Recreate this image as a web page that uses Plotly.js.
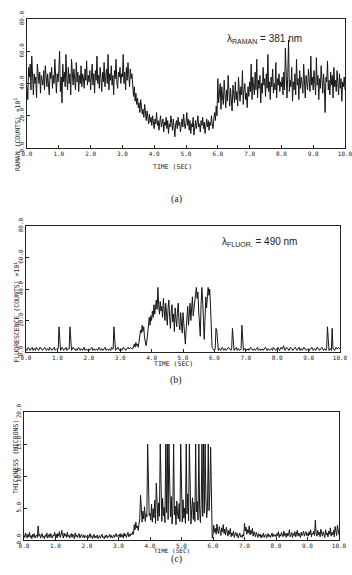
<!DOCTYPE html>
<html><head><meta charset="utf-8">
<script src="https://cdn.plot.ly/plotly-3.0.1.min.js"></script>
<style>html,body{margin:0;padding:0;background:#fff}#chart{width:352px;height:575px}</style>
</head><body><div id="chart"></div>
<script>
// time axis: 0 to 10 s, sample step 0.025 s
const timeStart = 0;
const timeStep = 0.025;
const xTickVals = [0,1,2,3,4,5,6,7,8,9,10];
const xTickText = ["0.0","1.0","2.0","3.0","4.0","5.0","6.0","7.0","8.0","9.0","10.0"];
const yTicksCounts = [0,20,40,60,80];
const yTicksCountsText = ["0.0","20.0","40.0","60.0","80.0"];
const yTicksThick = [0,5,10,15,20];
const yTicksThickText = ["0.0","5.0","10.0","15.0","20.0"];

// (a) Raman counts x10
const raman = [
38,30,50,44,52,36,57,41,33,46,40,44,31,52,43,40,47,34,45,42,39,48,36,51,44,38,46,41,33,47,43,50,37,45,40,55,42,34,46,41,
48,60,35,44,28,52,41,47,38,58,43,36,50,40,46,33,55,42,39,49,44,36,53,41,47,35,45,40,51,38,46,43,37,49,42,54,39,45,41,48,
36,44,52,39,46,34,48,42,57,40,45,37,50,43,35,47,41,53,38,44,49,40,58,36,46,42,51,39,45,33,48,43,55,41,37,47,44,50,40,46,
44,58,40,47,36,50,42,53,45,38,49,43,46,40,32,38,29,34,27,31,25,28,22,30,26,21,24,19,27,20,17,23,18,15,21,16,19,14,20,17,
12,18,15,22,14,17,11,16,20,13,15,18,10,16,14,19,12,17,9,15,13,20,16,11,18,14,7,15,17,12,19,14,16,10,15,18,13,21,15,12,
16,22,14,18,11,17,9,15,13,19,8,14,17,12,16,20,13,15,10,17,14,19,12,16,9,15,18,13,17,11,16,14,20,15,12,18,22,17,26,20,
43,28,35,40,24,38,31,27,42,33,25,36,29,45,30,26,37,32,23,39,34,28,41,30,35,26,44,31,29,38,33,48,27,36,40,30,34,25,38,32,
41,35,52,30,44,38,33,47,36,55,31,42,37,45,28,40,34,50,39,43,32,46,37,58,35,41,30,44,38,49,34,40,36,53,31,43,39,46,35,41,
38,44,33,47,36,62,40,31,45,67,35,42,38,50,29,41,36,46,33,55,39,43,30,48,37,44,40,34,52,38,31,45,41,36,49,42,35,57,39,44,
36,48,41,33,56,39,45,30,43,37,51,40,34,46,38,22,44,41,54,36,42,33,47,39,45,31,50,38,42,35,48,40,33,46,37,43,29,41,38,44,
36];

// (b) Fluorescence counts x10
const fluor = [
2,1,2,3,2,1,2,2,3,1,2,2,1,3,2,2,1,2,3,2,2,1,2,2,3,2,1,2,2,1,3,2,2,1,2,2,3,1,2,2,
2,2,16,2,1,2,3,2,1,2,2,3,1,2,2,2,16,2,1,2,3,2,2,1,2,1,2,3,2,1,2,2,1,2,3,1,2,2,1,2,
2,1,2,2,3,1,2,2,1,2,2,1,2,3,2,1,2,2,1,2,2,3,1,2,2,1,2,2,1,3,2,2,16,2,1,2,2,3,2,1,
2,2,1,2,3,2,2,1,2,2,3,2,2,3,2,2,2,3,5,3,6,4,5,3,7,11,14,12,17,13,16,9,5,4,7,13,18,22,17,23,
20,26,22,30,24,28,33,27,41,30,24,32,26,29,22,34,27,20,31,25,17,28,33,22,15,26,30,19,24,13,28,21,16,27,31,18,14,25,20,12,
25,18,9,5,14,22,29,17,24,31,20,27,35,23,28,33,37,41,34,38,26,13,10,30,41,33,16,8,20,35,28,39,41,36,40,30,12,3,2,1,
1,2,15,14,3,1,2,2,1,2,3,2,1,2,2,1,2,2,3,2,2,1,2,15,2,1,2,2,3,1,2,2,1,2,2,17,2,1,2,2,
2,1,2,2,1,2,3,2,2,1,2,2,1,2,2,3,1,2,2,1,2,2,1,2,2,3,2,1,2,2,1,2,2,2,1,3,2,2,1,2,
2,3,2,1,2,3,2,2,4,2,1,2,3,2,2,1,2,3,2,2,1,2,2,3,2,1,2,2,3,1,2,2,1,2,3,2,2,1,2,2,
2,1,2,2,3,2,1,2,2,1,2,3,2,2,1,2,2,3,2,1,2,2,1,2,16,2,1,2,2,1,15,2,2,1,2,3,2,2,3,2,
2];

// (c) Thickness, microns
const thickness = [
0.8,0.4,1.1,0.6,0.3,0.9,0.5,1.2,0.4,0.7,0.2,0.9,0.5,1.0,0.3,0.6,0.8,0.4,2.2,0.6,0.9,0.3,0.7,1.0,0.4,0.6,0.2,0.8,0.5,1.1,0.3,0.7,0.9,0.4,1.0,0.5,0.3,0.8,0.6,1.2,
0.5,0.9,0.3,1.0,0.6,1.3,0.4,0.8,1.5,0.7,0.3,1.1,0.6,0.9,0.4,1.2,0.5,0.8,0.3,0.7,1.0,0.4,0.9,0.6,0.2,1.1,0.5,0.8,0.4,0.7,1.0,0.3,0.6,0.9,0.5,0.4,0.8,0.3,0.7,0.5,
0.4,0.8,0.3,0.6,1.0,0.4,0.7,0.2,0.5,0.9,0.3,0.6,0.4,0.8,0.2,0.5,0.7,0.3,0.6,0.9,0.4,0.5,0.2,0.7,0.4,0.8,0.3,0.6,0.5,0.9,0.4,0.7,0.3,0.5,0.8,0.4,0.6,1.0,0.5,0.7,
0.6,0.9,0.4,1.0,0.5,0.8,0.3,1.1,0.6,0.9,0.4,0.7,1.2,0.5,0.9,0.6,1.0,0.8,1.3,0.9,2.4,1.6,2.8,1.9,2.2,1.5,2.6,3.4,7.0,3.9,2.8,4.5,3.3,5.2,2.9,4.1,3.6,15.0,5.5,3.8,
4.2,3.1,5.6,2.8,4.9,3.5,6.2,2.6,8.9,4.4,3.0,5.8,3.7,15.0,4.6,2.9,6.5,3.8,5.1,2.7,15.0,4.3,15.0,3.2,15.0,5.4,3.6,6.8,2.5,4.7,15.0,3.9,5.3,2.4,6.1,4.0,3.3,5.7,2.9,15.0,
4.5,2.8,6.3,3.4,5.0,2.6,15.0,4.1,7.2,3.0,15.0,5.5,2.5,4.8,6.6,3.2,5.9,2.9,15.0,4.4,6.0,3.1,15.0,4.9,2.7,5.6,15.0,3.7,15.0,4.2,15.0,6.4,3.5,5.2,15.0,4.6,7.5,14.5,1.2,0.3,
0.8,2.3,1.2,1.8,0.9,2.5,1.4,1.0,2.1,1.6,0.7,1.9,1.3,2.4,1.0,1.7,0.8,2.0,1.2,0.6,1.5,0.9,1.8,0.5,1.1,0.7,1.4,0.4,0.9,1.2,0.6,1.0,0.3,0.8,1.1,0.5,0.7,0.4,0.9,0.6,
2.6,1.4,2.0,0.9,1.6,1.1,2.2,0.8,1.5,1.0,1.8,0.6,1.3,0.9,0.5,1.2,0.7,0.4,1.0,0.6,0.9,0.3,0.8,0.5,1.1,0.4,0.7,0.9,0.3,0.6,1.0,0.5,0.8,0.4,0.7,1.1,0.5,0.9,0.6,0.8,
0.5,1.0,0.7,1.3,0.4,0.9,0.6,1.2,0.8,0.5,1.4,0.7,1.0,0.4,1.1,0.6,0.9,1.6,0.5,0.8,1.2,0.4,1.0,0.7,1.3,0.5,0.9,1.5,0.6,1.1,0.8,0.4,1.2,0.7,1.0,1.4,0.6,0.9,1.3,0.7,
1.0,0.6,1.3,0.8,1.6,0.5,1.1,0.9,1.4,0.7,3.1,1.0,0.6,1.5,0.8,1.2,0.5,1.7,0.9,0.6,1.3,1.0,0.4,1.6,0.8,1.1,0.5,1.4,0.9,1.9,0.6,1.2,0.8,1.5,0.5,2.1,1.0,0.7,2.3,1.1,
0.8];

const lineStyle = {color:'#161616', width:1};
const traces = [
  {y: raman, x0: timeStart, dx: timeStep, type:'scatter', mode:'lines', line: lineStyle, xaxis:'x', yaxis:'y', hoverinfo:'skip'},
  {y: fluor, x0: timeStart, dx: timeStep, type:'scatter', mode:'lines', line: lineStyle, xaxis:'x2', yaxis:'y2', hoverinfo:'skip'},
  {y: thickness, x0: timeStart, dx: timeStep, type:'scatter', mode:'lines', line: lineStyle, xaxis:'x3', yaxis:'y3', hoverinfo:'skip'}
];

const tickFont = {family:'DejaVu Sans Mono', size:6, color:'#222'};
function xAx(domain, anchor){
  return {domain: domain, anchor: anchor, range:[0,10], tickvals:xTickVals, ticktext:xTickText,
    showline:true, mirror:true, linecolor:'#222', linewidth:1, ticks:'inside', ticklen:3, tickcolor:'#222',
    showgrid:false, zeroline:false, tickfont:tickFont, automargin:false, fixedrange:true,
    ticklabeloverflow:'allow'};
}
function yAx(domain, anchor, range, vals, text){
  return {domain: domain, anchor: anchor, range:range, tickvals:vals, ticktext:text, tickangle:-90,
    showline:true, mirror:true, linecolor:'#222', linewidth:1, ticks:'inside', ticklen:3, tickcolor:'#222',
    showgrid:false, zeroline:false, tickfont:tickFont, automargin:false, fixedrange:true,
    ticklabeloverflow:'allow'};
}

const W = 352, H = 575;
const px = v => v / W;
const py = v => 1 - v / H;
const titleFont = {family:'DejaVu Sans Mono', size:6.5, color:'#222'};
const titleFontSm = {family:'DejaVu Sans Mono', size:6, color:'#222'};
const labFont = {family:'Liberation Sans', size:10, color:'#222'};
const capFont = {family:'Liberation Serif', size:10, color:'#222'};

const ann = [
  {text:'TIME (SEC)', x:px(172), y:py(161), xref:'paper', yref:'paper', showarrow:false, font:titleFont},
  {text:'RAMAN (COUNTS) ×10<sup>1</sup>', x:px(11), y:py(96), xref:'paper', yref:'paper', showarrow:false, textangle:-90, font:titleFont},
  {text:'λ<sub>RAMAN</sub> = 381 nm', x:px(225), y:py(31), xref:'paper', yref:'paper', xanchor:'left', showarrow:false, font:labFont},
  {text:'(a)', x:px(176), y:py(191), xref:'paper', yref:'paper', showarrow:false, font:capFont},

  {text:'TIME (SEC)', x:px(173), y:py(364), xref:'paper', yref:'paper', showarrow:false, font:titleFont},
  {text:'FLUORESCENCE (COUNTS) ×10<sup>1</sup>', x:px(10), y:py(312), xref:'paper', yref:'paper', showarrow:false, textangle:-90, font:titleFont},
  {text:'λ<sub>FLUOR.</sub> = 490 nm', x:px(220), y:py(242), xref:'paper', yref:'paper', xanchor:'left', showarrow:false, font:labFont},
  {text:'(b)', x:px(176), y:py(388), xref:'paper', yref:'paper', showarrow:false, font:capFont},

  {text:'TIME (SEC)', x:px(172), y:py(556), xref:'paper', yref:'paper', showarrow:false, font:titleFontSm},
  {text:'THICKNESS (MICRONS)', x:px(10), y:py(496), xref:'paper', yref:'paper', showarrow:false, textangle:-90, font:titleFont},
  {text:'(c)', x:px(176), y:py(567), xref:'paper', yref:'paper', showarrow:false, font:capFont}
];

const layout = {
  width: W, height: H,
  margin:{l:0, r:0, t:0, b:0, pad:0},
  paper_bgcolor:'#fff', plot_bgcolor:'#fff',
  showlegend:false,
  xaxis: xAx([px(27), px(345)], 'y'),
  yaxis: yAx([py(148), py(19)], 'x', [0,80], yTicksCounts, yTicksCountsText),
  xaxis2: xAx([px(26), px(340)], 'y2'),
  yaxis2: yAx([py(352), py(226)], 'x2', [0,80], yTicksCounts, yTicksCountsText),
  xaxis3: xAx([px(24), px(339)], 'y3'),
  yaxis3: yAx([py(540), py(412)], 'x3', [0,20], yTicksThick, yTicksThickText),
  annotations: ann
};

Plotly.newPlot('chart', traces, layout, {staticPlot:true, displayModeBar:false});
</script>
</body></html>
